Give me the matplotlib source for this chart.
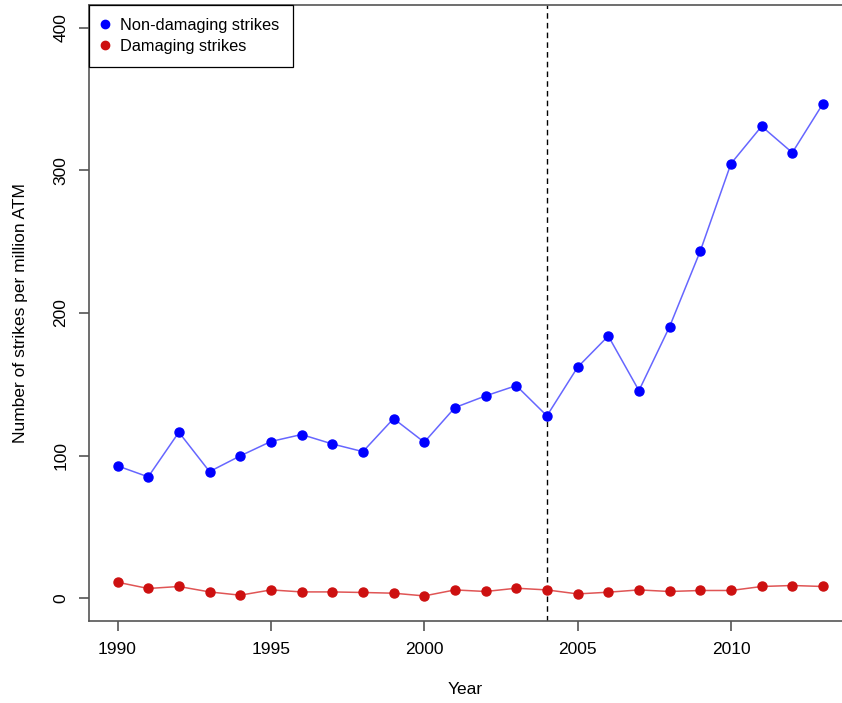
import matplotlib
matplotlib.use("Agg")
import matplotlib.pyplot as plt
from matplotlib.lines import Line2D

years = list(range(1990, 2014))
non_damaging = [92.8, 85.1, 116.4, 88.8, 99.8, 109.9, 114.8, 108.2, 102.8, 126.0,
                109.4, 133.7, 141.9, 149.1, 127.9, 162.0, 183.9, 145.6, 190.5, 243.5,
                304.8, 331.0, 312.5, 346.9]
damaging = [11.2, 6.8, 8.2, 4.4, 2.1, 5.8, 4.4, 4.4, 4.0, 3.5,
            1.6, 5.8, 4.7, 7.0, 5.8, 3.0, 4.2, 5.8, 4.7, 5.4,
            5.4, 8.2, 8.9, 8.2]
x_ticks = [1990, 1995, 2000, 2005, 2010]
y_ticks = [0, 100, 200, 300, 400]
vline_year = 2004

plt.rcParams['font.family'] = ['Liberation Sans', 'DejaVu Sans']

W, H = 842, 703
fig = plt.figure(figsize=(W / 100, H / 100), dpi=100)
left, right, top, bottom = 89.3, 842, 5.1, 621
ax = fig.add_axes([left / W, 1 - bottom / H, (right - left) / W, (bottom - top) / H])

blue_line = '#6666ff'
blue_pt = '#0000ff'
red_line = '#e05555'
red_pt = '#cd1010'

ax.plot(years, non_damaging, color=blue_line, lw=1.1, zorder=2)
ax.plot(years, non_damaging, 'o', color=blue_pt, ms=6.5, zorder=3)
ax.plot(years, damaging, color=red_line, lw=1.1, zorder=2)
ax.plot(years, damaging, 'o', color=red_pt, ms=6.5, zorder=3)

ax.axvline(vline_year, color='black', lw=1, ls=(0, (4, 3)), zorder=1)

ax.set_xlim(1989.08, 2013.62)
ax.set_ylim(-16, 416)
ax.set_xticks(x_ticks)
ax.set_yticks(y_ticks)
ax.set_yticklabels([str(v) for v in y_ticks], rotation=90, va='center')

axis_col = '#555555'
for s in ['left', 'bottom', 'top']:
    ax.spines[s].set_color(axis_col)
    ax.spines[s].set_linewidth(1.2)
ax.spines['right'].set_visible(False)
ax.tick_params(axis='both', colors=axis_col, length=7, width=1.2, labelsize=12.5,
               labelcolor='black', pad=8)

ax.set_xlabel('Year', fontsize=12.5, labelpad=18)
ax.set_ylabel('Number of strikes per million ATM', fontsize=12.5, labelpad=18)

handles = [Line2D([], [], marker='o', color=blue_pt, ls='none', ms=6),
           Line2D([], [], marker='o', color=red_pt, ls='none', ms=6)]
leg = ax.legend(handles, ['Non-damaging strikes', 'Damaging strikes'], loc='upper left',
                borderaxespad=0, fancybox=False, edgecolor='black', framealpha=1,
                fontsize=11.8, handlelength=0.35, handletextpad=0.74, labelspacing=0.36,
                borderpad=0.8)
leg.get_frame().set_linewidth(0.9)

fig.savefig('out.png', dpi=100)
